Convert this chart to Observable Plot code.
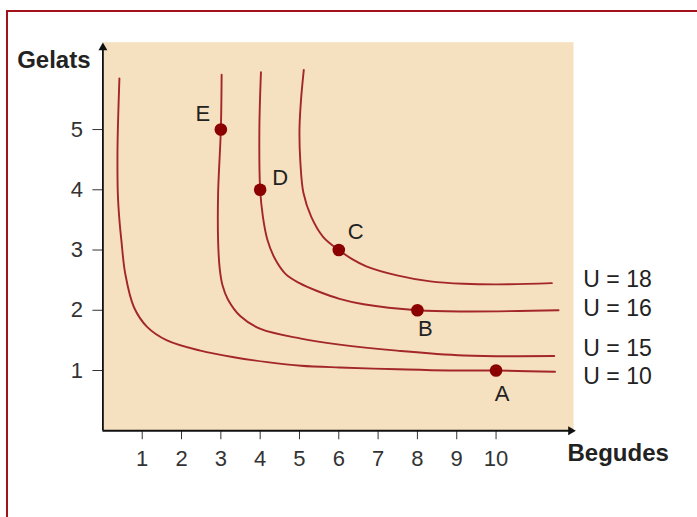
<!DOCTYPE html>
<html><head><meta charset="utf-8">
<script src="https://cdn.jsdelivr.net/npm/d3@7"></script>
<script src="https://cdn.jsdelivr.net/npm/@observablehq/plot@0.6"></script>
<style>
html,body{margin:0;padding:0;background:#fff;overflow:hidden;width:697px;height:517px;}
#wrap{position:relative;width:697px;height:517px;overflow:hidden;}
#frame{position:absolute;left:6px;top:10px;width:740px;height:560px;border:2px solid #a3121c;box-sizing:border-box;pointer-events:none;}
#chart{position:absolute;left:0;top:0;}
</style></head><body>
<div id="wrap"><div id="chart"></div><div id="frame"></div></div>
<script>
// tick values
const xTicks = [1, 2, 3, 4, 5, 6, 7, 8, 9, 10];
const yTicks = [1, 2, 3, 4, 5];

// indifference curves, points [begudes, gelats]
const curveU10 = [[0.42,5.85],[0.38,5.0],[0.37,4.5],[0.38,3.93],[0.42,3.5],[0.47,3.16],[0.57,2.6],[0.79,2.05],[1.13,1.72],[1.63,1.5],[2.48,1.33],[3.33,1.22],[4.18,1.14],[5.04,1.08],[6.02,1.05],[7.5,1.02],[8.8,1.0],[10,1.0],[11.5,0.98]];
const curveU15 = [[3.02,5.91],[3.0,5.0],[2.93,3.93],[2.93,3.16],[2.97,2.7],[3.04,2.42],[3.18,2.18],[3.5,1.9],[4.01,1.69],[5.04,1.53],[6.02,1.43],[7.48,1.33],[9.18,1.25],[11.48,1.24]];
const curveU16 = [[4.02,5.95],[3.98,5.0],[4.0,4.0],[4.07,3.55],[4.18,3.18],[4.38,2.85],[4.65,2.6],[5.0,2.45],[5.45,2.32],[6.02,2.19],[6.63,2.1],[8.0,2.0],[9.18,1.98],[11.59,2.0]];
const curveU18 = [[5.11,5.99],[5.04,5.5],[5.0,5.0],[5.02,4.49],[5.1,3.95],[5.3,3.55],[5.6,3.22],[6.0,3.0],[6.34,2.85],[6.7,2.73],[7.48,2.58],[8.33,2.48],[9.18,2.44],[10.03,2.43],[11.42,2.45]];

// labelled points
const pointNames = ["E", "D", "C", "B", "A"];
const pointX = [3, 4, 6, 8, 10];
const pointY = [5, 4, 3, 2, 1];
const pointDx = [-18, 20, 17, 8, 6];
const pointDy = [-16, -12, -18, 19, 23];

// curve labels
const curveLabels = ["U = 18", "U = 16", "U = 15", "U = 10"];
const curveLabelY = [2.51, 2.02, 1.37, 0.905];
const curveLabelX = 12.22;

const points = pointNames.map((n, i) => ({name: n, x: pointX[i], y: pointY[i], dx: pointDx[i], dy: pointDy[i]}));
const labels = curveLabels.map((t, i) => ({text: t, y: curveLabelY[i]}));

const curveColor = "#a3262a";
const font = "'Liberation Sans', Arial, Helvetica, sans-serif";

const marks = [
  Plot.frame({fill: "#f5e0bf", stroke: null}),
  ...[curveU10, curveU15, curveU16, curveU18].map(c =>
    Plot.line(c, {x: d => d[0], y: d => d[1], stroke: curveColor, strokeWidth: 1.9, curve: "catmull-rom"})),
  Plot.ruleY([0], {x1: 0, x2: 11.9, stroke: "#111", strokeWidth: 1.8}),
  Plot.ruleX([0], {y1: 0, y2: 6.36, stroke: "#111", strokeWidth: 1.8}),
  Plot.dot([[11.9, 0]], {x: d => d[0], y: d => d[1], symbol: "triangle", r: 3.3, fill: "#111", stroke: null, rotate: 90}),
  Plot.dot([[0, 6.36]], {x: d => d[0], y: d => d[1], symbol: "triangle", r: 3.3, fill: "#111", stroke: null}),
  Plot.dot(points, {x: "x", y: "y", r: 6.3, fill: "#8b0000", stroke: null}),
  ...points.map(p => Plot.text([p], {x: "x", y: "y", text: "name", dx: p.dx, dy: p.dy, fontSize: 22, fill: "#222", lineAnchor: "middle"})),
  Plot.text(labels, {x: () => curveLabelX, y: "y", text: "text", textAnchor: "start", fontSize: 23, fill: "#222", lineAnchor: "middle"}),
  Plot.text(["Gelats"], {frameAnchor: "top-left", text: d => d, dx: -12.4, dy: 18, textAnchor: "end", lineAnchor: "middle", fontWeight: "bold", fontSize: 24, fill: "#222"}),
  Plot.text(["Begudes"], {frameAnchor: "bottom-right", text: d => d, dx: -6, dy: 23, textAnchor: "start", lineAnchor: "middle", fontWeight: "bold", fontSize: 24, fill: "#222"})
];

const chart = Plot.plot({
  width: 697,
  height: 517,
  marginLeft: 102.4,
  marginRight: 124,
  marginTop: 41.7,
  marginBottom: 86.75,
  style: {fontFamily: font, fontSize: "22px", color: "#333", background: "transparent"},
  x: {domain: [0, 11.97], ticks: xTicks, tickSize: 9, tickPadding: 11, label: null, tickFormat: d3.format("d")},
  y: {domain: [0, 6.45], ticks: yTicks, tickSize: 10, tickPadding: 10, label: null, tickFormat: d3.format("d")},
  marks
});
document.getElementById("chart").appendChild(chart);
</script>
</body></html>
